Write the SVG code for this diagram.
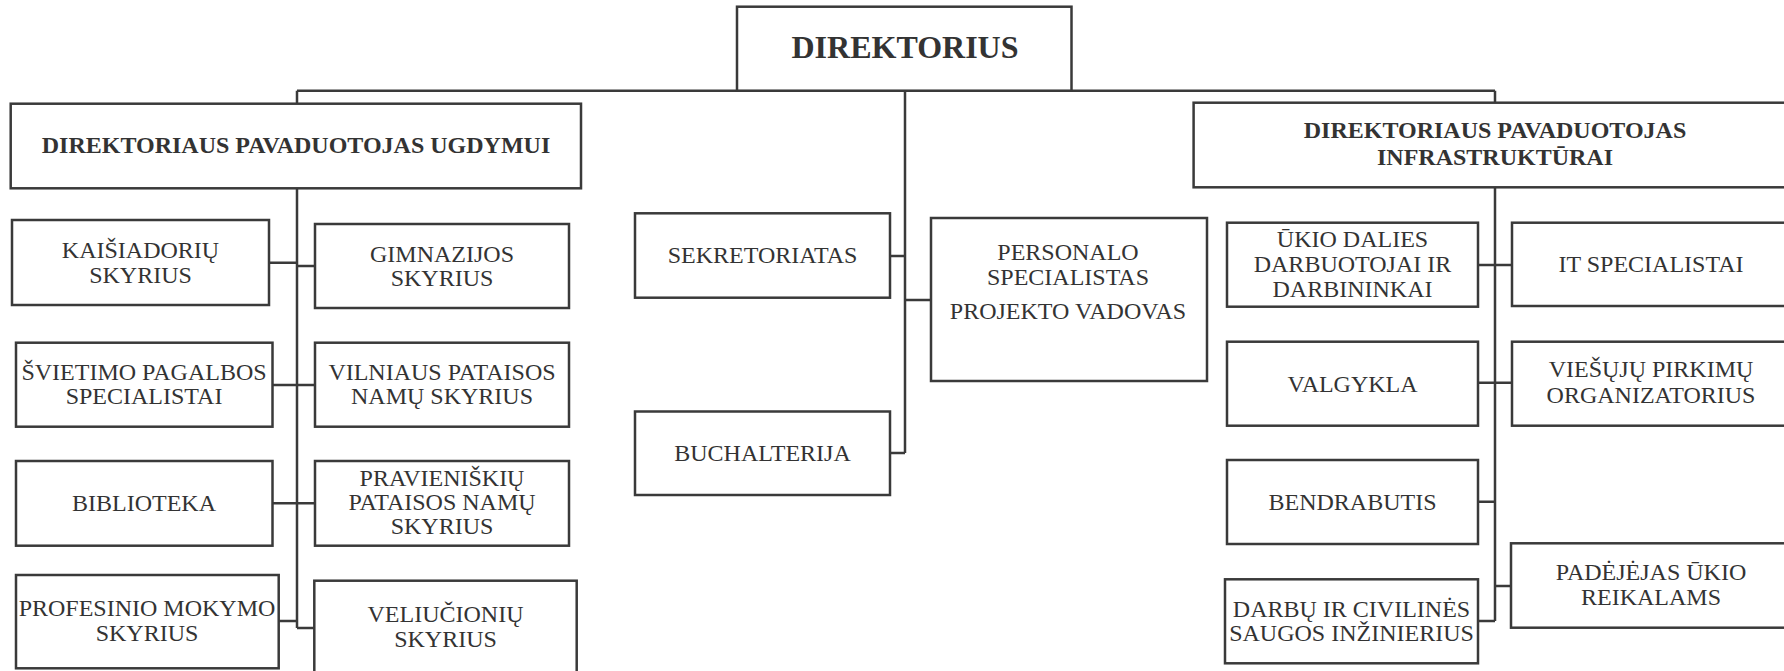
<svg xmlns="http://www.w3.org/2000/svg" width="1784" height="671" viewBox="0 0 1784 671">
<style>
rect{fill:#fff;stroke:#3a3a3a;stroke-width:2.5}
text{font-family:"Liberation Serif","Times New Roman",serif;font-size:24px;fill:#333;text-anchor:middle}
.b{font-weight:bold}
.big{font-size:32px;font-weight:bold}
#connectors path{fill:none;stroke:#3a3a3a;stroke-width:2.5}
</style>
<rect x="0" y="0" width="1784" height="671" style="stroke:none;fill:#fff"/>
<g id="connectors">
<path d="M297,90.7H1495M297,90.7V103.7M1495,90.7V102.7M905,90.7V453"/>
<path d="M297,188.3V628M269,262.7H297M297,266H315M272.5,385H315M272.5,503.3H315M278.7,621H297M297,628H314.3"/>
<path d="M890,256H905M905,300H931M890,453H905"/>
<path d="M1495,187.3V621M1478,265H1512M1478,382.7H1512M1478,501.7H1495M1478,621H1495M1495,586H1511"/>
</g>
<g id="n-direktorius"><rect x="737" y="6.7" width="334.5" height="84"/><text class="big" x="905" y="58.3">DIREKTORIUS</text></g>
<g id="n-ugdymui"><rect x="10.7" y="103.7" width="570.3" height="84.6"/><text class="b" x="296" y="153.3">DIREKTORIAUS PAVADUOTOJAS UGDYMUI</text></g>
<g id="n-infra"><rect x="1193.6" y="102.7" width="605" height="84.6"/><text class="b" x="1495" y="138.3">DIREKTORIAUS PAVADUOTOJAS</text><text class="b" x="1495" y="165">INFRASTRUKTŪRAI</text></g>
<g id="n-kaisiadoriu"><rect x="12" y="220" width="257" height="85"/><text x="140.5" y="258">KAIŠIADORIŲ</text><text x="140.5" y="282.7">SKYRIUS</text></g>
<g id="n-gimnazijos"><rect x="315" y="224" width="254" height="84"/><text x="442" y="261.7">GIMNAZIJOS</text><text x="442" y="285.7">SKYRIUS</text></g>
<g id="n-svietimo"><rect x="16" y="342.7" width="256.5" height="84"/><text x="144" y="380">ŠVIETIMO PAGALBOS</text><text x="144" y="404">SPECIALISTAI</text></g>
<g id="n-vilniaus"><rect x="315" y="342.7" width="254" height="84"/><text x="442" y="380">VILNIAUS PATAISOS</text><text x="442" y="404">NAMŲ SKYRIUS</text></g>
<g id="n-biblioteka"><rect x="16" y="461" width="256.5" height="84.7"/><text x="144" y="511">BIBLIOTEKA</text></g>
<g id="n-pravieniskiu"><rect x="315" y="461" width="254" height="84.7"/><text x="442" y="485.7">PRAVIENIŠKIŲ</text><text x="442" y="510.3">PATAISOS NAMŲ</text><text x="442" y="534.3">SKYRIUS</text></g>
<g id="n-profesinio"><rect x="16" y="575" width="262.7" height="93.3"/><text x="147" y="616">PROFESINIO MOKYMO</text><text x="147" y="641">SKYRIUS</text></g>
<g id="n-veliucioniu"><rect x="314.3" y="580.7" width="262.4" height="100"/><text x="445.5" y="621.7">VELIUČIONIŲ</text><text x="445.5" y="646.7">SKYRIUS</text></g>
<g id="n-sekretoriatas"><rect x="635" y="213.3" width="255" height="84.4"/><text x="762.5" y="263.3">SEKRETORIATAS</text></g>
<g id="n-buchalterija"><rect x="635" y="411.5" width="255" height="83.5"/><text x="762.5" y="460.7">BUCHALTERIJA</text></g>
<g id="n-personalo"><rect x="931" y="218" width="276" height="163"/><text x="1068" y="260">PERSONALO</text><text x="1068" y="285">SPECIALISTAS</text><text x="1068" y="319.3">PROJEKTO VADOVAS</text></g>
<g id="n-ukio"><rect x="1227" y="222.7" width="251" height="84"/><text x="1352.5" y="246.7">ŪKIO DALIES</text><text x="1352.5" y="271.7">DARBUOTOJAI IR</text><text x="1352.5" y="296.7">DARBININKAI</text></g>
<g id="n-it"><rect x="1512" y="222.7" width="290" height="83.3"/><text x="1651" y="271.7">IT SPECIALISTAI</text></g>
<g id="n-valgykla"><rect x="1227" y="341.7" width="251" height="84"/><text x="1352.5" y="391.7">VALGYKLA</text></g>
<g id="n-viesuju"><rect x="1512" y="341.7" width="290" height="84"/><text x="1651" y="376.7">VIEŠŲJŲ PIRKIMŲ</text><text x="1651" y="403.3">ORGANIZATORIUS</text></g>
<g id="n-bendrabutis"><rect x="1227" y="460" width="251" height="84"/><text x="1352.5" y="510">BENDRABUTIS</text></g>
<g id="n-darbu"><rect x="1225" y="579.3" width="253" height="84"/><text x="1351.5" y="616.7">DARBŲ IR CIVILINĖS</text><text x="1351.5" y="640.7">SAUGOS INŽINIERIUS</text></g>
<g id="n-padejejas"><rect x="1511" y="543.3" width="290" height="84.4"/><text x="1651" y="580">PADĖJĖJAS ŪKIO</text><text x="1651" y="605">REIKALAMS</text></g>
</svg>
